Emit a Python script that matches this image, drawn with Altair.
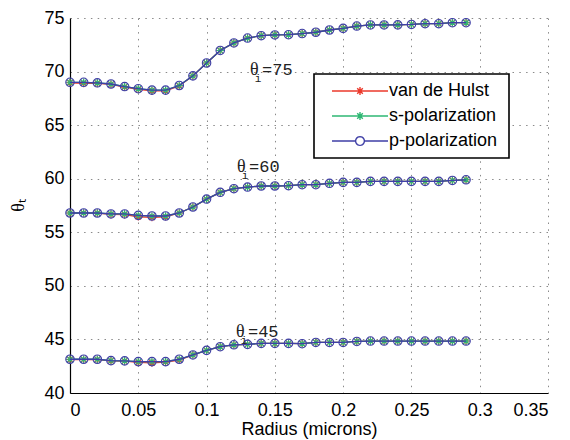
import math
import altair as alt
import pandas as pd

# Particle radius (microns) at which each transmission angle was computed
radius = [0.00, 0.01, 0.02, 0.03, 0.04, 0.05, 0.06, 0.07, 0.08, 0.09,
          0.10, 0.11, 0.12, 0.13, 0.14, 0.15, 0.16, 0.17, 0.18, 0.19,
          0.20, 0.21, 0.22, 0.23, 0.24, 0.25, 0.26, 0.27, 0.28, 0.29]

# Transmission angle theta_t for incidence theta_i = 75, 60, 45 degrees
hulst_75 = [68.95, 68.90, 68.90, 68.80, 68.55, 68.35, 68.20, 68.20, 68.65, 69.60,
            70.80, 71.97, 72.67, 73.13, 73.35, 73.42, 73.44, 73.55, 73.67, 73.88,
            74.03, 74.25, 74.35, 74.35, 74.36, 74.40, 74.47, 74.47, 74.56, 74.56]
pol_75 = [69.00, 69.00, 68.95, 68.84, 68.60, 68.40, 68.27, 68.27, 68.70, 69.60,
          70.80, 71.97, 72.67, 73.13, 73.35, 73.42, 73.44, 73.55, 73.67, 73.88,
          74.03, 74.25, 74.35, 74.35, 74.36, 74.40, 74.47, 74.47, 74.56, 74.56]

hulst_60 = [56.80, 56.80, 56.78, 56.68, 56.65, 56.45, 56.40, 56.45, 56.80, 57.36,
            58.10, 58.73, 59.07, 59.22, 59.32, 59.32, 59.35, 59.44, 59.44, 59.57,
            59.66, 59.66, 59.75, 59.75, 59.75, 59.75, 59.75, 59.75, 59.84, 59.90]
pol_60 = [56.80, 56.80, 56.80, 56.71, 56.71, 56.58, 56.52, 56.52, 56.80, 57.36,
          58.10, 58.73, 59.07, 59.22, 59.32, 59.32, 59.35, 59.44, 59.44, 59.57,
          59.66, 59.66, 59.75, 59.75, 59.75, 59.75, 59.75, 59.75, 59.84, 59.90]

hulst_45 = [43.12, 43.12, 43.12, 43.00, 42.98, 42.85, 42.82, 42.88, 43.08, 43.55,
            43.98, 44.32, 44.50, 44.54, 44.63, 44.63, 44.63, 44.60, 44.72, 44.72,
            44.72, 44.81, 44.85, 44.85, 44.85, 44.85, 44.85, 44.85, 44.85, 44.85]
pol_45 = [43.15, 43.15, 43.15, 43.02, 43.00, 42.93, 42.93, 42.93, 43.15, 43.55,
          43.98, 44.32, 44.50, 44.54, 44.63, 44.63, 44.63, 44.60, 44.72, 44.72,
          44.72, 44.81, 44.85, 44.85, 44.85, 44.85, 44.85, 44.85, 44.85, 44.85]

series_names = ["van de Hulst", "s-polarization", "p-polarization"]
series_colors = ["#ec3a2c", "#2fb874", "#3f3fa6"]

# Curve annotations: position of the theta symbol and the text that follows
label_x = [0.1318, 0.1223, 0.1215]
label_y = [70.17, 61.12, 45.67]
label_text = ["=75", "=60", "=45"]

rows = []
curves = [("75", hulst_75, pol_75), ("60", hulst_60, pol_60), ("45", hulst_45, pol_45)]
for inc, hulst, pol in curves:
    for name, values in zip(series_names, [hulst, pol, pol]):
        for r, v in zip(radius, values):
            rows.append({"series": name, "incidence": inc, "radius": r, "theta": v})
df = pd.DataFrame(rows)

labels = pd.DataFrame({"x": label_x, "y": label_y, "rest": label_text})

# Marker glyphs (unit coordinates, scaled by sqrt(size)/2)
STAR = "M-1,0H1M0,-1V1M-0.7,-0.7L0.7,0.7M-0.7,0.7L0.7,-0.7"


def ring(r, n=20):
    pts = [(r * math.cos(2 * math.pi * k / n), r * math.sin(2 * math.pi * k / n)) for k in range(n)]
    return "M" + "L".join(f"{x:.3f},{y:.3f}" for x, y in pts) + "Z"


# Legend keys: a line segment with the series marker in its middle
LEG_STAR = "M-7,0H7" + STAR
LEG_RING = "M-7,0H-1.1M1.1,0H7" + ring(1.1)

x_scale = alt.Scale(domain=[0, 0.35], nice=False, zero=False)
y_scale = alt.Scale(domain=[40, 75], nice=False, zero=False)

x_enc = alt.X("radius:Q", title="Radius (microns)", scale=x_scale,
              axis=alt.Axis(values=[0, 0.05, 0.1, 0.15, 0.2, 0.25, 0.3, 0.35],
                            format="~g", labelPadding=8, titlePadding=1))
y_enc = alt.Y("theta:Q", title="θₜ", scale=y_scale,
              axis=alt.Axis(values=[40, 45, 50, 55, 60, 65, 70, 75], labelPadding=6,
                            titleAngle=270, titleX=-52, titleY=187,
                            titleAlign="center", titleBaseline="middle",
                            titleFont="Liberation Serif", titleFontSize=18,
                            titleFontWeight="normal"))

# Blank em-space title on the right widens the legend frame
legend = alt.Legend(
    orient="none", legendX=244, legendY=56,
    title="\u2003", titleOrient="right", titlePadding=4, titleFontSize=18,
    symbolSize=64, symbolOffset=29, labelOffset=20, rowPadding=7,
    padding=8, fillColor="white", strokeColor="black",
    symbolStrokeWidth=1.4, symbolOpacity=1,
    labelFont="Liberation Sans", labelFontSize=18, labelColor="black",
)

# Legend-only layer: no rows survive the filter, the scales carry the entries
key_layer = alt.Chart(df).transform_filter("false").mark_point(
    filled=False, size=64, strokeWidth=1.4, opacity=1
).encode(
    x=x_enc, y=y_enc,
    color=alt.Color("series:N", scale=alt.Scale(domain=series_names, range=series_colors),
                    legend=legend),
    shape=alt.Shape("series:N", scale=alt.Scale(domain=series_names,
                                                range=[LEG_STAR, LEG_STAR, LEG_RING]),
                    legend=legend),
)

layers = [key_layer]
marker_shapes = [STAR, STAR, "circle"]
marker_sizes = [60, 60, 72]
for name, color, shape, size in zip(series_names, series_colors, marker_shapes, marker_sizes):
    sub = df[df["series"] == name]
    layers.append(
        alt.Chart(sub).mark_line(strokeWidth=1.3, color=color).encode(
            x="radius:Q", y="theta:Q", detail="incidence:N", order="radius:Q"
        )
    )
    layers.append(
        alt.Chart(sub).mark_point(shape=shape, size=size, filled=False, strokeWidth=1.1,
                                  color=color, opacity=1).encode(x="radius:Q", y="theta:Q")
    )

theta_sym = alt.Chart(labels).mark_text(
    text="θ", align="left", baseline="middle", font="Liberation Serif", fontSize=18, color="#222"
).encode(x="x:Q", y="y:Q")
theta_sub = alt.Chart(labels).mark_text(
    text="i", align="center", baseline="middle", dx=8, dy=9, font="Liberation Mono",
    fontSize=11, color="#222"
).encode(x="x:Q", y="y:Q")
theta_rest = alt.Chart(labels).mark_text(
    align="left", baseline="middle", dx=12, font="Liberation Mono", fontSize=17, color="#222"
).encode(x="x:Q", y="y:Q", text="rest:N")
layers += [theta_sym, theta_sub, theta_rest]

chart = alt.layer(*layers).properties(
    width=478, height=375,
    background="white",
    autosize=alt.AutoSizeParams(type="none"),
    padding={"left": 70, "top": 18, "right": 22, "bottom": 47},
).configure_view(
    stroke=None
).configure_axis(
    labelFont="Liberation Sans", labelFontSize=18, labelColor="black",
    titleFont="Liberation Sans", titleFontSize=18, titleColor="black", titleFontWeight="normal",
    domainColor="black", domainWidth=1.2, ticks=False, tickSize=0,
    gridColor="#8a8a8a", gridDash=[1.5, 5.3], gridWidth=1, gridOpacity=1,
).configure_legend(
    strokeWidth=1.6
)

chart.save("out.html", embed_options={"renderer": "svg", "actions": False})
